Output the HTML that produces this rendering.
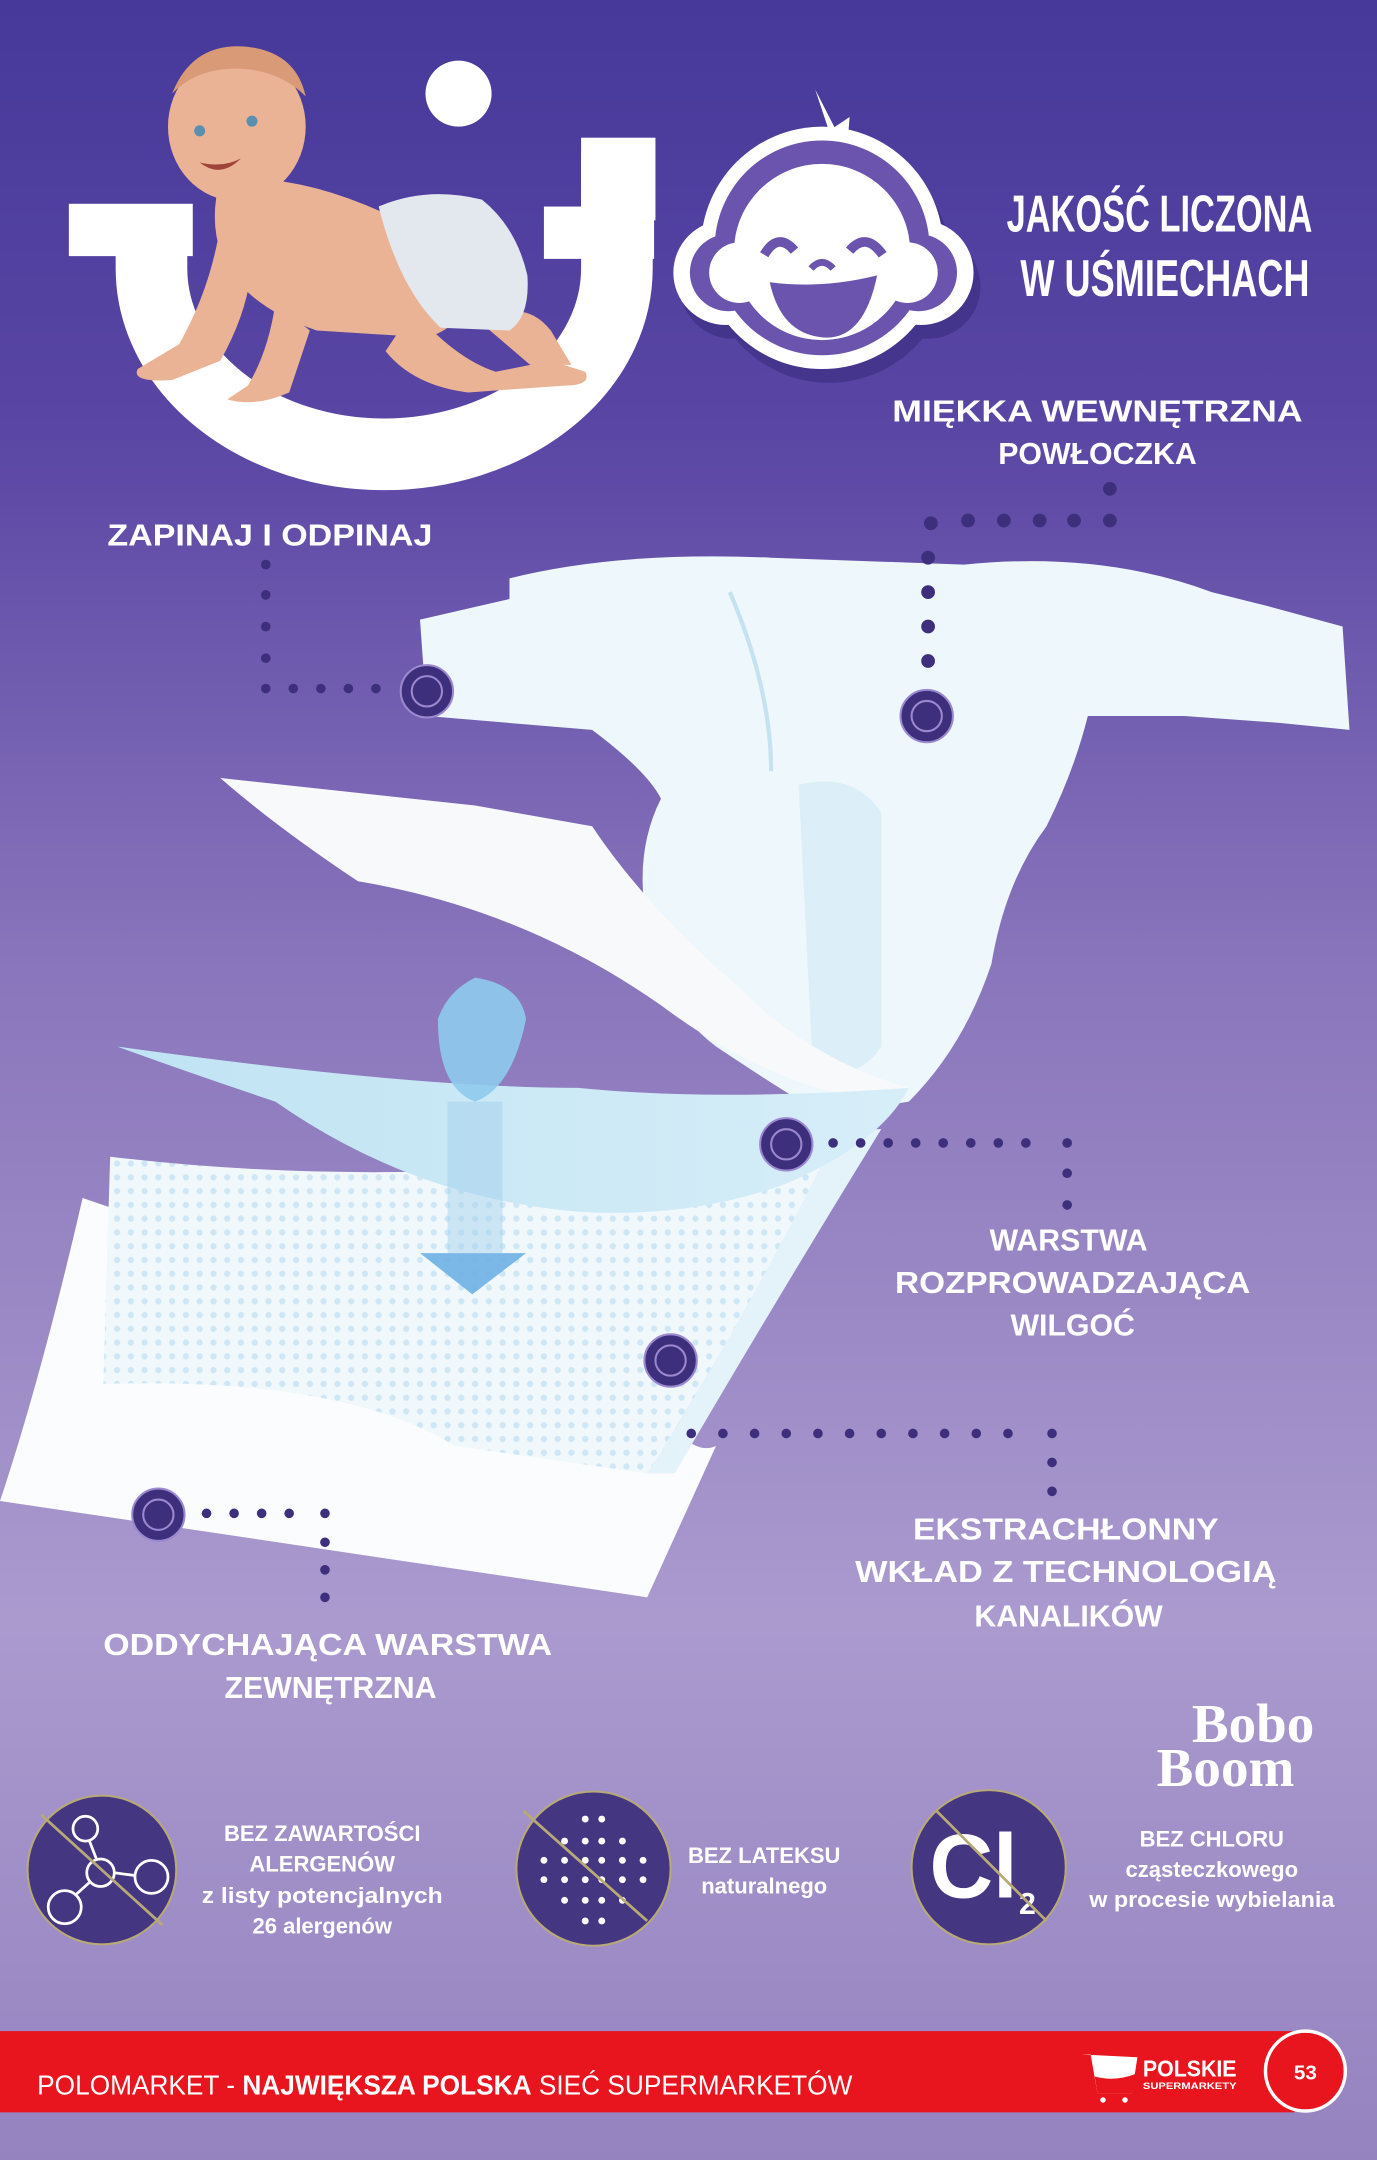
<!DOCTYPE html>
<html><head><meta charset="utf-8"><style>
html,body{margin:0;padding:0;width:1377px;height:2160px;overflow:hidden}
svg{display:block}
text{font-family:"Liberation Sans",sans-serif;font-weight:bold;fill:#fff}
</style></head><body>
<svg width="1377" height="2160" viewBox="0 0 1000 1568.6" preserveAspectRatio="none" xmlns="http://www.w3.org/2000/svg">
<defs>
<linearGradient id="bg" x1="0" y1="0" x2="0" y2="1">
<stop offset="0" stop-color="#46399a"/>
<stop offset="0.2" stop-color="#5a46a4"/>
<stop offset="0.45" stop-color="#8a76bc"/>
<stop offset="0.75" stop-color="#aa9ace"/>
<stop offset="1" stop-color="#9583c0"/>
</linearGradient>
<linearGradient id="blue" x1="0" y1="0" x2="1" y2="0">
<stop offset="0" stop-color="#bfe3f3"/><stop offset="1" stop-color="#d7eef8"/>
</linearGradient>
<pattern id="dots" width="10" height="10" patternUnits="userSpaceOnUse">
<rect width="10" height="10" fill="#f1f8fc"/><circle cx="5" cy="5" r="2.3" fill="#cfe7f5"/>
</pattern>
</defs>
<rect width="1000" height="1568.6" fill="url(#bg)"/>

<!-- U logo -->
<path d="M110,165 L110,195 A169,135 0 0 0 448,195 L448,110" fill="none" stroke="#fff" stroke-width="52"/>
<rect x="50" y="148" width="90" height="38" fill="#fff"/>
<rect x="395" y="150" width="80" height="38" fill="#fff"/>
<rect x="422" y="100" width="54" height="60" fill="#fff"/>
<circle cx="333" cy="68" r="24" fill="#fff"/>
<!-- baby -->
<g fill="#eab395">
<path d="M160,130 Q220,125 290,160 L330,200 Q345,235 310,245 L230,240 Q185,225 165,195 Q150,165 160,130Z"/>
<path d="M158,175 Q150,215 130,250 L100,268 Q95,278 125,276 L160,262 Q178,230 182,200Z"/>
<path d="M200,220 Q195,255 180,280 L165,290 Q185,296 210,285 L225,240Z"/>
<path d="M300,225 Q330,260 360,270 L400,262 L425,270 Q430,280 410,280 L340,285 Q300,280 280,255Z"/>
<path d="M350,235 Q380,215 400,240 L415,265 L385,265Z"/>
<ellipse cx="172" cy="92" rx="50" ry="54"/>
</g>
<path d="M125,68 Q140,30 180,34 Q215,38 222,70 Q200,48 165,50 Q140,52 125,68Z" fill="#d99a78"/>
<circle cx="145" cy="95" r="4" fill="#5a8fb0"/><circle cx="183" cy="88" r="4" fill="#5a8fb0"/>
<path d="M145,118 Q160,130 175,115 Q162,122 145,118Z" fill="#a0443a"/>
<path d="M275,150 Q310,135 350,145 Q375,165 383,200 Q385,230 370,240 L320,238 Q290,210 275,150Z" fill="#e3e8ee"/>

<!-- Smile logo -->
<g transform="translate(597,180)">
<g transform="translate(5,10)" fill="#3a2c7e" opacity="0.6">
<circle cx="0" cy="0" r="88"/><circle cx="-70" cy="18" r="38"/><circle cx="72" cy="18" r="38"/>
</g>
<path d="M-5,-115 L5,-85 L20,-95 L18,-70 Z" fill="#fff"/>
<circle cx="0" cy="0" r="88" fill="#fff"/>
<circle cx="-70" cy="18" r="38" fill="#fff"/>
<circle cx="72" cy="18" r="38" fill="#fff"/>
<circle cx="0" cy="0" r="78" fill="#6a54ad"/>
<circle cx="-68" cy="18" r="28" fill="#6a54ad"/>
<circle cx="70" cy="18" r="28" fill="#6a54ad"/>
<circle cx="0" cy="3" r="64" fill="#fff"/>
<circle cx="-60" cy="18" r="22" fill="#fff"/>
<circle cx="62" cy="18" r="22" fill="#fff"/>
<path d="M-42,5 Q-32,-12 -20,2" fill="none" stroke="#6a54ad" stroke-width="7"/>
<path d="M20,2 Q32,-12 44,5" fill="none" stroke="#6a54ad" stroke-width="7"/>
<path d="M-8,15 Q0,6 8,15" fill="none" stroke="#6a54ad" stroke-width="5"/>
<path d="M-38,25 Q0,30 40,20 Q30,68 0,65 Q-30,62 -38,25Z" fill="#6a54ad"/>
</g>
<text x="842" y="168" font-size="38" text-anchor="middle" textLength="222" lengthAdjust="spacingAndGlyphs">JAKOŚĆ LICZONA</text>
<text x="846" y="215" font-size="38" text-anchor="middle" textLength="210" lengthAdjust="spacingAndGlyphs">W UŚMIECHACH</text>

<text x="797" y="306" font-size="22" text-anchor="middle" textLength="298" lengthAdjust="spacingAndGlyphs">MIĘKKA WEWNĘTRZNA</text>
<text x="797" y="337" font-size="22" text-anchor="middle">POWŁOCZKA</text>
<text x="196" y="396" font-size="22" text-anchor="middle" textLength="236" lengthAdjust="spacingAndGlyphs">ZAPINAJ I ODPINAJ</text>

<!-- bottom white sheet -->
<path d="M0,1090 Q30,1000 60,870 L470,1010 Q500,1060 520,1050 L470,1160 Z" fill="#fafcfd"/>
<!-- dotted sheet -->
<path d="M80,840 Q330,870 610,820 L600,840 Q540,960 470,1070 Q400,1060 330,1050 Q250,1000 75,1005 Z" fill="url(#dots)"/>
<path d="M610,820 Q540,960 470,1070 L490,1070 Q560,950 640,820Z" fill="#e4f2f9"/>
<!-- diaper body -->
<path d="M305,450 L370,435 L370,420 Q450,400 560,405 L700,410 Q800,400 880,430 L920,440 L975,455 L980,530 L930,525 L860,520 L790,520 Q780,560 760,600 Q730,640 720,700 Q700,760 660,800 L600,810 Q580,800 520,760 Q480,730 470,670 Q460,620 480,580 Q470,560 430,530 L370,525 L310,520 Z" fill="#eef7fb"/>
<path d="M580,570 Q620,560 640,590 L640,760 Q620,790 590,770 Z" fill="#dceef7"/>
<path d="M530,430 Q560,500 560,560" stroke="#c4e2f0" stroke-width="3" fill="none"/>
<!-- white top sheet -->
<path d="M160,565 L345,585 L430,600 Q470,660 540,720 Q590,770 660,790 L640,800 Q560,790 480,730 Q380,660 260,640 Q200,600 160,565Z" fill="#f7f9fb"/>
<!-- blue sheet -->
<path d="M85,760 Q300,790 420,790 Q520,800 660,790 Q640,830 570,860 Q500,885 420,880 Q300,870 200,800 Q140,780 85,760Z" fill="url(#blue)"/>
<!-- drop & arrow -->
<path d="M345,710 Q325,720 318,740 Q318,790 345,800 Q372,790 382,740 Q378,715 345,710Z" fill="#8fcaed" opacity="0.9"/>
<rect x="325" y="800" width="40" height="110" fill="#9fcfee" opacity="0.45"/>
<path d="M305,910 L382,910 L343,940Z" fill="#6eb0e6" opacity="0.9"/>

<!-- connectors -->
<g fill="#3d2f7c">
<circle cx="193" cy="410" r="3.5"/><circle cx="193" cy="432" r="3.5"/><circle cx="193" cy="455" r="3.5"/><circle cx="193" cy="478" r="3.5"/>
<circle cx="193" cy="500" r="3.5"/><circle cx="213" cy="500" r="3.5"/><circle cx="233" cy="500" r="3.5"/><circle cx="253" cy="500" r="3.5"/><circle cx="273" cy="500" r="3.5"/>
<circle cx="806" cy="355" r="5"/><circle cx="806" cy="378" r="5"/><circle cx="780" cy="378" r="5"/><circle cx="755" cy="378" r="5"/><circle cx="729" cy="378" r="5"/><circle cx="703" cy="378" r="5"/><circle cx="676" cy="380" r="5"/>
<circle cx="674" cy="405" r="5"/><circle cx="674" cy="430" r="5"/><circle cx="674" cy="455" r="5"/><circle cx="674" cy="480" r="5"/>
<circle cx="605" cy="830" r="3.5"/><circle cx="625" cy="830" r="3.5"/><circle cx="645" cy="830" r="3.5"/><circle cx="665" cy="830" r="3.5"/><circle cx="685" cy="830" r="3.5"/><circle cx="705" cy="830" r="3.5"/><circle cx="725" cy="830" r="3.5"/><circle cx="745" cy="830" r="3.5"/><circle cx="775" cy="830" r="3.5"/><circle cx="775" cy="852" r="3.5"/><circle cx="775" cy="875" r="3.5"/>
<circle cx="502" cy="1041" r="3.5"/><circle cx="525" cy="1041" r="3.5"/><circle cx="548" cy="1041" r="3.5"/><circle cx="571" cy="1041" r="3.5"/><circle cx="594" cy="1041" r="3.5"/><circle cx="617" cy="1041" r="3.5"/><circle cx="640" cy="1041" r="3.5"/><circle cx="663" cy="1041" r="3.5"/><circle cx="686" cy="1041" r="3.5"/><circle cx="709" cy="1041" r="3.5"/><circle cx="732" cy="1041" r="3.5"/><circle cx="764" cy="1041" r="3.5"/><circle cx="764" cy="1062" r="3.5"/><circle cx="764" cy="1083" r="3.5"/>
<circle cx="150" cy="1099" r="3.5"/><circle cx="170" cy="1099" r="3.5"/><circle cx="190" cy="1099" r="3.5"/><circle cx="210" cy="1099" r="3.5"/><circle cx="236" cy="1099" r="3.5"/><circle cx="236" cy="1120" r="3.5"/><circle cx="236" cy="1140" r="3.5"/><circle cx="236" cy="1160" r="3.5"/>
</g>
<g fill="#3d2f7c" stroke="#9b88cf" stroke-width="1.5">
<circle cx="310" cy="502" r="19"/><circle cx="310" cy="502" r="11" fill="none"/>
<circle cx="673" cy="520" r="19"/><circle cx="673" cy="520" r="11" fill="none"/>
<circle cx="571" cy="831" r="19"/><circle cx="571" cy="831" r="11" fill="none"/>
<circle cx="487" cy="988" r="19"/><circle cx="487" cy="988" r="11" fill="none"/>
<circle cx="115" cy="1100" r="19"/><circle cx="115" cy="1100" r="11" fill="none"/>
</g>

<g font-size="22" text-anchor="middle">
<text x="776" y="908">WARSTWA</text>
<text x="779" y="939" textLength="258" lengthAdjust="spacingAndGlyphs">ROZPROWADZAJĄCA</text>
<text x="779" y="970">WILGOĆ</text>
<text x="774" y="1118" textLength="222" lengthAdjust="spacingAndGlyphs">EKSTRACHŁONNY</text>
<text x="774" y="1149" textLength="306" lengthAdjust="spacingAndGlyphs">WKŁAD Z TECHNOLOGIĄ</text>
<text x="776" y="1181">KANALIKÓW</text>
<text x="238" y="1202" textLength="326" lengthAdjust="spacingAndGlyphs">ODDYCHAJĄCA WARSTWA</text>
<text x="240" y="1233">ZEWNĘTRZNA</text>
</g>

<text x="910" y="1265" font-size="40" text-anchor="middle" style="font-family:'Liberation Serif',serif">Bobo</text>
<text x="890" y="1297" font-size="40" text-anchor="middle" style="font-family:'Liberation Serif',serif">Boom</text>

<!-- icons -->
<g stroke="#b8a978" stroke-width="1.5">
<circle cx="74" cy="1358" r="54" fill="#443680"/>
<circle cx="431" cy="1357" r="56" fill="#443680"/>
<circle cx="718" cy="1356" r="56" fill="#443680"/>
</g>
<g fill="none" stroke="#fff" stroke-width="2">
<circle cx="62" cy="1328" r="9"/><circle cx="73" cy="1360" r="10"/><circle cx="110" cy="1363" r="12"/><circle cx="47" cy="1385" r="12"/>
<line x1="65" y1="1337" x2="70" y2="1350"/><line x1="83" y1="1360" x2="98" y2="1362"/><line x1="65" y1="1367" x2="55" y2="1376"/>
</g>
<line x1="30" y1="1318" x2="118" y2="1398" stroke="#b8a978" stroke-width="2"/>
<g fill="#fff">
<circle cx="425" cy="1321" r="2.5"/><circle cx="437" cy="1321" r="2.5"/>
<circle cx="410" cy="1337" r="2.5"/><circle cx="425" cy="1337" r="2.5"/><circle cx="437" cy="1337" r="2.5"/><circle cx="452" cy="1337" r="2.5"/>
<circle cx="395" cy="1351" r="2.5"/><circle cx="410" cy="1351" r="2.5"/><circle cx="425" cy="1351" r="2.5"/><circle cx="437" cy="1351" r="2.5"/><circle cx="452" cy="1351" r="2.5"/><circle cx="467" cy="1351" r="2.5"/>
<circle cx="395" cy="1365" r="2.5"/><circle cx="410" cy="1365" r="2.5"/><circle cx="425" cy="1365" r="2.5"/><circle cx="437" cy="1365" r="2.5"/><circle cx="452" cy="1365" r="2.5"/><circle cx="467" cy="1365" r="2.5"/>
<circle cx="410" cy="1380" r="2.5"/><circle cx="425" cy="1380" r="2.5"/><circle cx="437" cy="1380" r="2.5"/><circle cx="452" cy="1380" r="2.5"/>
<circle cx="425" cy="1395" r="2.5"/><circle cx="437" cy="1395" r="2.5"/>
</g>
<line x1="380" y1="1315" x2="470" y2="1395" stroke="#b8a978" stroke-width="2"/>
<text x="675" y="1378" font-size="66" textLength="64" lengthAdjust="spacingAndGlyphs">Cl</text>
<text x="740" y="1390" font-size="22">2</text>
<line x1="680" y1="1315" x2="760" y2="1395" stroke="#b8a978" stroke-width="2"/>

<g font-size="16" text-anchor="middle" fill="#f3f0fa">
<text x="234" y="1337">BEZ ZAWARTOŚCI</text>
<text x="234" y="1359">ALERGENÓW</text>
<text x="234" y="1382" font-weight="normal" textLength="175" lengthAdjust="spacingAndGlyphs">z listy potencjalnych</text>
<text x="234" y="1404" font-weight="normal">26 alergenów</text>
<text x="555" y="1353">BEZ LATEKSU</text>
<text x="555" y="1375" font-weight="normal">naturalnego</text>
<text x="880" y="1341">BEZ CHLORU</text>
<text x="880" y="1363" font-weight="normal">cząsteczkowego</text>
<text x="880" y="1385" font-weight="normal" textLength="178" lengthAdjust="spacingAndGlyphs">w procesie wybielania</text>
</g>

<!-- footer -->
<rect x="0" y="1475" width="940" height="59" fill="#e8141e"/>
<circle cx="948" cy="1504" r="29" fill="#e8141e" stroke="#fff" stroke-width="2.5"/>
<text x="948" y="1510" font-size="15" text-anchor="middle">53</text>
<text x="27" y="1521" font-size="20" font-weight="normal" textLength="592" lengthAdjust="spacingAndGlyphs"><tspan font-weight="normal">POLOMARKET - </tspan><tspan font-weight="bold">NAJWIĘKSZA POLSKA</tspan><tspan font-weight="normal"> SIEĆ SUPERMARKETÓW</tspan></text>
<path d="M786,1492 L792,1492 L797,1520 L822,1520 L826,1494 Z" fill="#fff"/>
<path d="M795,1508 Q810,1512 825,1506 L822,1520 L797,1520Z" fill="#e8141e"/>
<circle cx="801" cy="1525" r="2" fill="#fff"/><circle cx="817" cy="1525" r="2" fill="#fff"/>
<text x="830" y="1508" font-size="17" textLength="68" lengthAdjust="spacingAndGlyphs">POLSKIE</text>
<text x="830" y="1517" font-size="7" textLength="68" lengthAdjust="spacingAndGlyphs">SUPERMARKETY</text>
</svg>
</body></html>
